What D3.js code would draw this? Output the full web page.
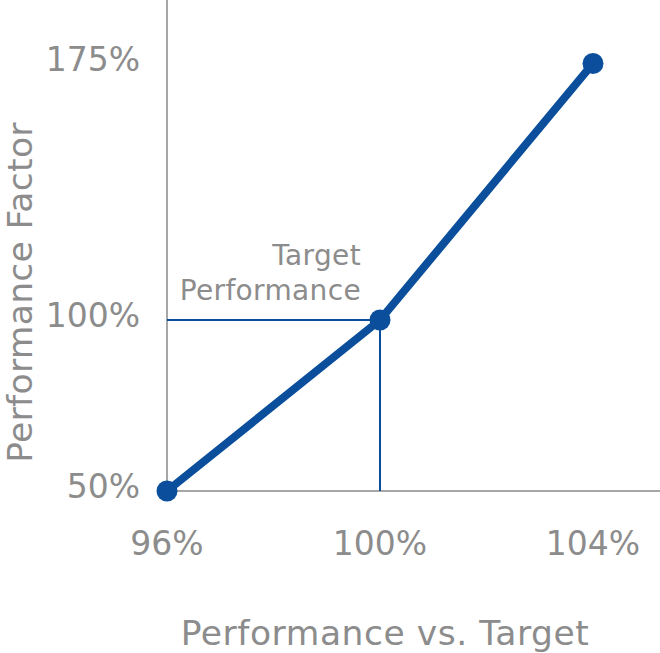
<!DOCTYPE html>
<html><head><meta charset="utf-8">
<script src="https://cdn.jsdelivr.net/npm/d3@7"></script>
<style>body{margin:0;background:#fff}svg{display:block}</style>
</head><body>
<svg id="chart" width="660" height="653"></svg>
<script>
const xValues = [96, 100, 104];
const yValues = [50, 100, 175];
const xTicks = [96, 100, 104];
const yTicks = [50, 100, 175];
const xTickLabels = ["96%", "100%", "104%"];
const yTickLabels = ["50%", "100%", "175%"];
const target = {x: 100, y: 100, label: ["Target", "Performance"]};
const xTitle = "Performance vs. Target";
const yTitle = "Performance Factor";

const W = 660, H = 653;
const blue = "#0b4f9c", gray = "#8c8c8c", axisGray = "#a6a6a6";
const font = "'DejaVu Sans', Verdana, sans-serif";

const x = d3.scaleLinear().domain([96, 104]).range([167, 593]);
const y = d3.scaleLinear().domain([50, 100]).range([491, 320]);

const svg = d3.select("#chart");

// axes lines
svg.append("line").attr("x1", x(96)).attr("x2", W).attr("y1", y(50)).attr("y2", y(50))
  .attr("stroke", axisGray).attr("stroke-width", 2);
svg.append("line").attr("x1", x(96)).attr("x2", x(96)).attr("y1", 0).attr("y2", y(50))
  .attr("stroke", axisGray).attr("stroke-width", 2);

// reference lines
svg.append("line").attr("x1", x(96)).attr("x2", x(target.x)).attr("y1", y(target.y)).attr("y2", y(target.y))
  .attr("stroke", blue).attr("stroke-width", 2);
svg.append("line").attr("x1", x(target.x)).attr("x2", x(target.x)).attr("y1", y(target.y)).attr("y2", y(50))
  .attr("stroke", blue).attr("stroke-width", 2);

// tick labels
svg.append("g").selectAll("text").data(yTicks).join("text")
  .attr("x", 140).attr("y", d => y(d) + 7)
  .attr("text-anchor", "end").attr("font-family", font).attr("font-size", 33).attr("fill", gray)
  .text((d, i) => yTickLabels[i]);
svg.append("g").selectAll("text").data(xTicks).join("text")
  .attr("x", d => x(d)).attr("y", 555)
  .attr("text-anchor", "middle").attr("font-family", font).attr("font-size", 33).attr("fill", gray)
  .text((d, i) => xTickLabels[i]);

// titles
svg.append("text").attr("x", (182 + 588) / 2).attr("y", 645).attr("text-anchor", "middle")
  .attr("font-family", font).attr("font-size", 34.5).attr("letter-spacing", 0.55).attr("fill", gray).text(xTitle);
svg.append("text").attr("transform", "translate(32," + ((120 + 465) / 2) + ") rotate(-90)")
  .attr("text-anchor", "middle").attr("font-family", font).attr("font-size", 34.5).attr("letter-spacing", 0.3).attr("fill", gray).text(yTitle);

// annotation
svg.append("g").selectAll("text").data(target.label).join("text")
  .attr("x", 361).attr("y", (d, i) => 265 + i * 35).attr("text-anchor", "end")
  .attr("font-family", font).attr("font-size", 28).attr("letter-spacing", 0.35).attr("fill", gray).text(d => d);

// line and points
const data = xValues.map((v, i) => ({x: v, y: yValues[i]}));
svg.append("path").datum(data)
  .attr("d", d3.line().x(d => x(d.x)).y(d => y(d.y)))
  .attr("fill", "none").attr("stroke", blue).attr("stroke-width", 8);
svg.append("g").selectAll("circle").data(data).join("circle")
  .attr("cx", d => x(d.x)).attr("cy", d => y(d.y)).attr("r", 10.5).attr("fill", blue);
</script>
</body></html>
